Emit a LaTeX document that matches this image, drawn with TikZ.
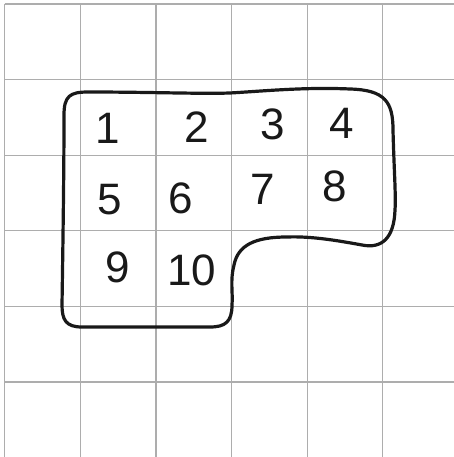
\documentclass[tikz,border=0pt]{standalone}
\usepackage{fontspec}
\setmainfont{Liberation Sans}
\begin{document}
\begin{tikzpicture}[x=1pt,y=-1pt,
  gridline/.style={draw=black!32,line width=1.2pt},
  outline/.style={draw=black!90,line width=3.2pt,line join=round},
  digit/.style={font=\fontsize{44}{44}\selectfont,text=black!90,inner sep=0pt}]
\useasboundingbox (0,0) rectangle (454,457);
\fill[white] (0,0) rectangle (454,457);
% grid
\foreach \i in {0,...,5}{
  \draw[gridline] (4.7+75.6*\i,4) -- (4.7+75.6*\i,457);
  \draw[gridline] (4.7,4+75.6*\i) -- (454,4+75.6*\i);
}
% outline
\draw[outline] (64,115) .. controls (64,96) and (70,92) .. (88,92)
  .. controls (150,92) and (200,94) .. (230,93)
  .. controls (265,91) and (305,87) .. (350,89)
  .. controls (385,90) and (393,102) .. (393,130)
  .. controls (394,170) and (396,195) .. (395,210)
  .. controls (394,238) and (382,249) .. (362,245)
  .. controls (340,241) and (312,236) .. (287,237)
  .. controls (255,237) and (238,245) .. (234,265)
  .. controls (230,280) and (233,293) .. (232,305)
  .. controls (232,322) and (225,327) .. (210,327)
  -- (82,327)
  .. controls (66,327) and (62,320) .. (62,305)
  .. controls (63,240) and (64,170) .. (64,115) -- cycle;
% digits
\node[digit] (d1) at (108,128) {1};
\node[digit] (d2) at (197,127) {2};
\node[digit] (d3) at (273,124) {3};
\node[digit] (d4) at (342,123) {4};
\node[digit] (d5) at (110,200) {5};
\node[digit] (d6) at (181,198) {6};
\node[digit] (d7) at (263,189) {7};
\node[digit] (d8) at (335,186) {8};
\node[digit] (d9) at (118,267) {9};
\node[digit] (d10) at (192,270) {10};
\end{tikzpicture}
\end{document}
